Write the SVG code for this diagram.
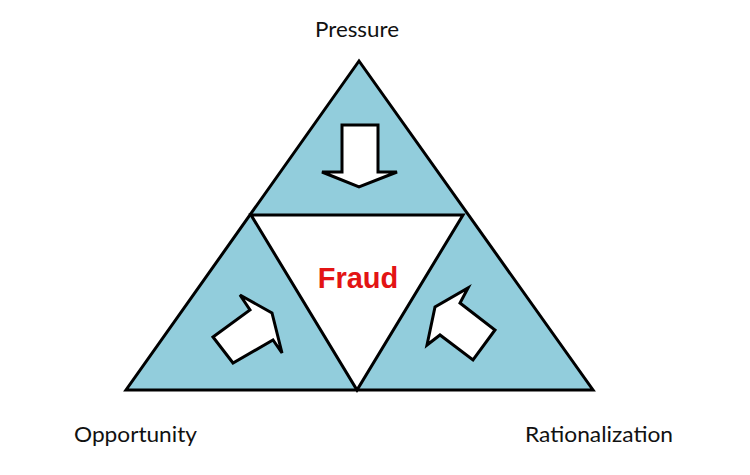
<svg xmlns="http://www.w3.org/2000/svg" width="750" height="475" viewBox="0 0 750 475">
<style>
.tri{fill:#92CDDC;stroke:#000;stroke-width:3;stroke-linejoin:miter}
.inner{fill:#fff;stroke:#000;stroke-width:3}
.arrow{fill:#fff;stroke:#000;stroke-width:3;stroke-linejoin:miter}
.lbl{font-family:Lato,"Open Sans","Liberation Sans",sans-serif;font-size:21px;fill:#111}
.fraud{font-family:"Liberation Sans",Arial,sans-serif;font-weight:bold;font-size:29px;fill:#E31414}
</style>
<rect width="750" height="475" fill="#fff"/>
<g id="triangle">
<polygon class="tri" points="359,61 126,390 593,390"/>
</g>
<g id="fraud">
<polygon class="inner" points="251,215 463,215 357,390"/>
<text class="fraud" x="358" y="288" text-anchor="middle">Fraud</text>
</g>
<g id="connectors">
<polygon class="arrow" points="342,125 378,125 378,172 397,172 359,187 322,172 342,172"/>
<polygon class="arrow" points="213,337 250,310 240,295 272,313 282,353 273,340 233,363"/>
<polygon class="arrow" points="468,288 460,303 495,330 473,360 440,335 427,345 435,307"/>
</g>
<g id="pressure">
<text class="lbl" x="357" y="37" text-anchor="middle" textLength="84" lengthAdjust="spacingAndGlyphs">Pressure</text>
</g>
<g id="opportunity">
<text class="lbl" x="74" y="442" textLength="123" lengthAdjust="spacingAndGlyphs">Opportunity</text>
</g>
<g id="rationalization">
<text class="lbl" x="525" y="442" textLength="148" lengthAdjust="spacingAndGlyphs">Rationalization</text>
</g>
</svg>
